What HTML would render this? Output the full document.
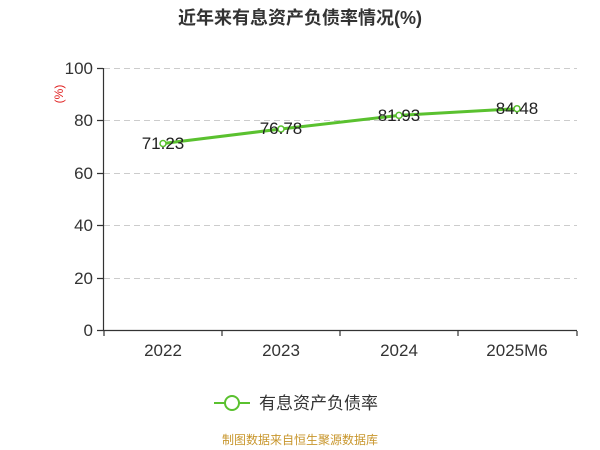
<!DOCTYPE html>
<html><head><meta charset="utf-8"><style>body{margin:0;background:#fff}svg{display:block}</style></head><body>
<svg width="600" height="450" xmlns="http://www.w3.org/2000/svg" font-family="'Liberation Sans','Noto Sans CJK SC',sans-serif">
<text x="300" y="24" text-anchor="middle" font-size="18" font-weight="bold" fill="#333">近年来有息资产负债率情况(%)</text>
<g stroke="#ccc" stroke-dasharray="6,4" stroke-width="1">
<line x1="104" x2="577" y1="68.5" y2="68.5"/><line x1="104" x2="577" y1="120.5" y2="120.5"/><line x1="104" x2="577" y1="173.5" y2="173.5"/><line x1="104" x2="577" y1="225.5" y2="225.5"/><line x1="104" x2="577" y1="278.5" y2="278.5"/>
</g>
<g stroke="#333" stroke-width="1.2" fill="none">
<line x1="103.5" y1="68" x2="103.5" y2="331"/>
<line x1="103" y1="330.5" x2="577" y2="330.5"/>
<path d="M97 68.5H103M97 120.5H103M97 173.5H103M97 225.5H103M97 278.5H103M97 330.5H103"/>
<path d="M104 331V336M222 331V336M340 331V336M458 331V336M577 331V336"/>
</g>
<g font-size="17" fill="#333" text-anchor="end">
<text x="93" y="74">100</text><text x="93" y="126">80</text><text x="93" y="179">60</text><text x="93" y="231">40</text><text x="93" y="284">20</text><text x="93" y="336">0</text>
</g>
<text transform="translate(63,94) rotate(-90)" font-size="12" fill="#e02020" text-anchor="middle">(%)</text>
<g font-size="17" fill="#333" text-anchor="middle">
<text x="163" y="356">2022</text><text x="281" y="356">2023</text><text x="399" y="356">2024</text><text x="517" y="356">2025M6</text>
</g>
<polyline points="163,143.5 281,129 399,115.4 517,108.7" fill="none" stroke="#5ac12f" stroke-width="3" stroke-linejoin="round"/>
<g fill="#fff" stroke="#5ac12f" stroke-width="1.5">
<circle cx="163" cy="143.5" r="3"/><circle cx="281" cy="129" r="3"/><circle cx="399" cy="115.4" r="3"/><circle cx="517" cy="108.7" r="3"/>
</g>
<g font-size="17" fill="#222" text-anchor="middle">
<text x="163" y="149">71.23</text><text x="281" y="134">76.78</text><text x="399" y="121">81.93</text><text x="517" y="114">84.48</text>
</g>
<line x1="214" y1="403" x2="250" y2="403" stroke="#5ac12f" stroke-width="2"/>
<circle cx="232" cy="403" r="7" fill="#fff" stroke="#5ac12f" stroke-width="2"/>
<text x="259" y="409" font-size="17" fill="#333">有息资产负债率</text>
<text x="300" y="444" text-anchor="middle" font-size="12" fill="#c8962c">制图数据来自恒生聚源数据库</text>
</svg>
</body></html>
